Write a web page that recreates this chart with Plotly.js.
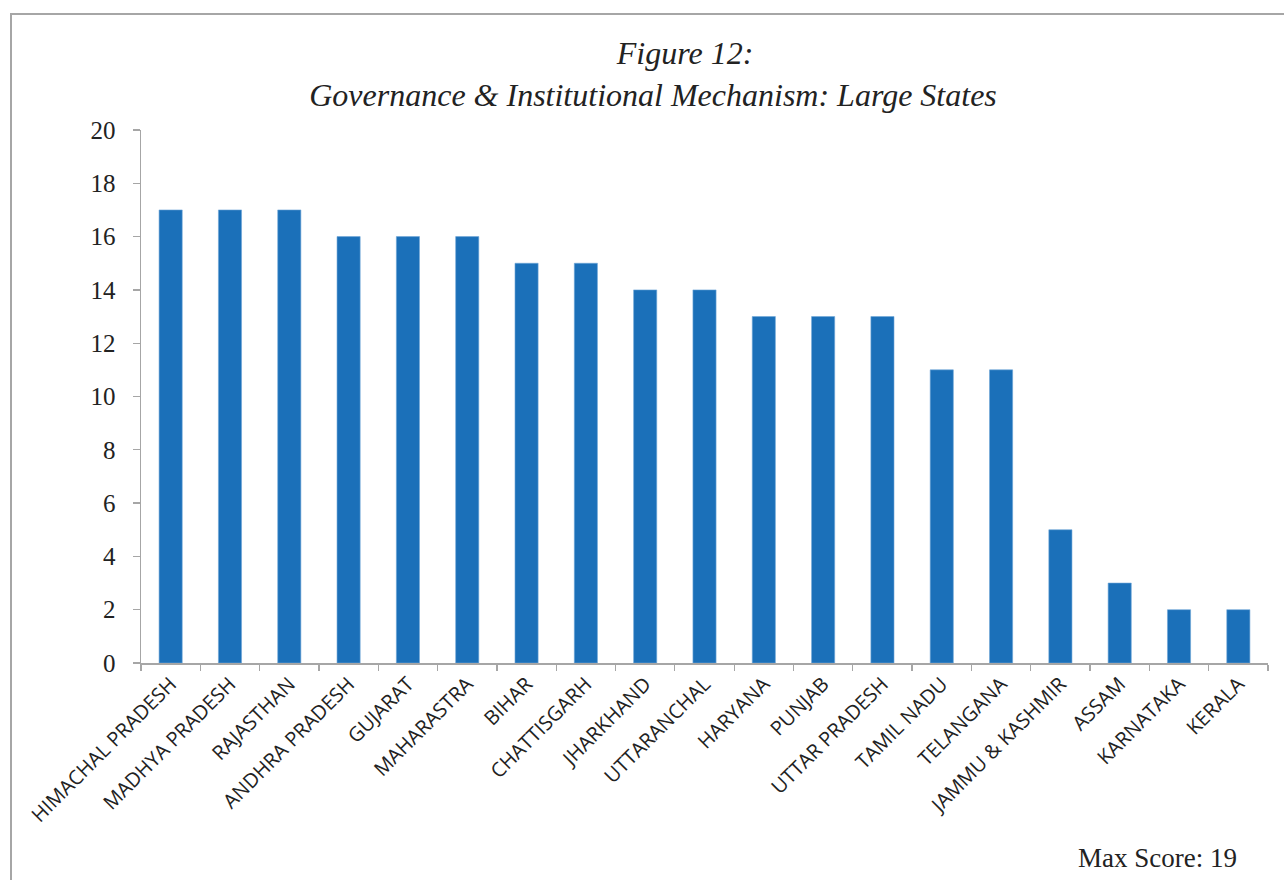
<!DOCTYPE html>
<html>
<head>
<meta charset="utf-8">
<script src="https://cdn.plot.ly/plotly-3.0.1.min.js"></script>
<style>html,body{margin:0;padding:0;background:#fff;}#chart{width:1284px;height:880px;}</style>
</head>
<body>
<div id="chart"></div>
<script>
const states = ["HIMACHAL PRADESH","MADHYA PRADESH","RAJASTHAN","ANDHRA PRADESH","GUJARAT","MAHARASTRA","BIHAR","CHATTISGARH","JHARKHAND","UTTARANCHAL","HARYANA","PUNJAB","UTTAR PRADESH","TAMIL NADU","TELANGANA","JAMMU & KASHMIR","ASSAM","KARNATAKA","KERALA"];
const scores = [17,17,17,16,16,16,15,15,14,14,13,13,13,11,11,5,3,2,2];
const yTicks = [0,2,4,6,8,10,12,14,16,18,20];
const titleLine1 = "Figure 12:";
const titleLine2 = "Governance & Institutional Mechanism: Large States";
const note = "Max Score: 19";

const trace = {
  type: "bar",
  x: states,
  y: scores,
  marker: {color: "#1b70b9", line: {color: "#6fa6d6", width: 0.6}},
  hoverinfo: "x+y"
};

const pad = "&nbsp;".repeat(8);
const layout = {
  width: 1284, height: 880,
  paper_bgcolor: "#fff", plot_bgcolor: "#fff",
  margin: {l: 141, r: 16, t: 130, b: 217},
  bargap: 0.61,
  showlegend: false,
  title: {
    text: pad + titleLine1 + "<br>" + titleLine2,
    font: {family: "Liberation Serif, Times New Roman, serif", size: 32, color: "#222", style: "italic"},
    x: 653/1284, xanchor: "center", xref: "container",
    y: 1 - 64/880, yanchor: "middle", yref: "container"
  },
  xaxis: {
    type: "category",
    tickson: "boundaries",
    ticks: "outside", ticklen: 6, tickcolor: "#a6a6a6", tickwidth: 1.3,
    showline: true, linecolor: "#a6a6a6", linewidth: 1.5,
    tickangle: -45,
    tickfont: {family: "Open Sans, Noto Sans, sans-serif", size: 20, color: "#222"},
    showgrid: false, zeroline: false, fixedrange: true
  },
  yaxis: {
    range: [0, 20],
    tickvals: yTicks,
    ticks: "outside", ticklen: 7, tickcolor: "#a6a6a6", tickwidth: 1.3,
    showline: true, linecolor: "#a6a6a6", linewidth: 1.5,
    ticklabelstandoff: 12,
    tickfont: {family: "Liberation Serif, Times New Roman, serif", size: 25, color: "#222"},
    showgrid: false, zeroline: false, fixedrange: true
  },
  shapes: [{
    type: "rect", xref: "paper", yref: "paper",
    x0: (11-141)/1127, x1: (1295-141)/1127,
    y0: (663-895)/533, y1: (663-14)/533,
    line: {color: "#a6a6a6", width: 2}, fillcolor: "rgba(0,0,0,0)", layer: "below"
  }],
  annotations: [{
    text: note, xref: "paper", yref: "paper",
    x: (1239-141)/1127, xanchor: "right",
    y: (663-858)/533, yanchor: "middle",
    showarrow: false,
    font: {family: "Liberation Serif, Times New Roman, serif", size: 27, color: "#222"}
  }]
};

Plotly.newPlot("chart", [trace], layout, {displayModeBar: false, staticPlot: true});
</script>
</body>
</html>
